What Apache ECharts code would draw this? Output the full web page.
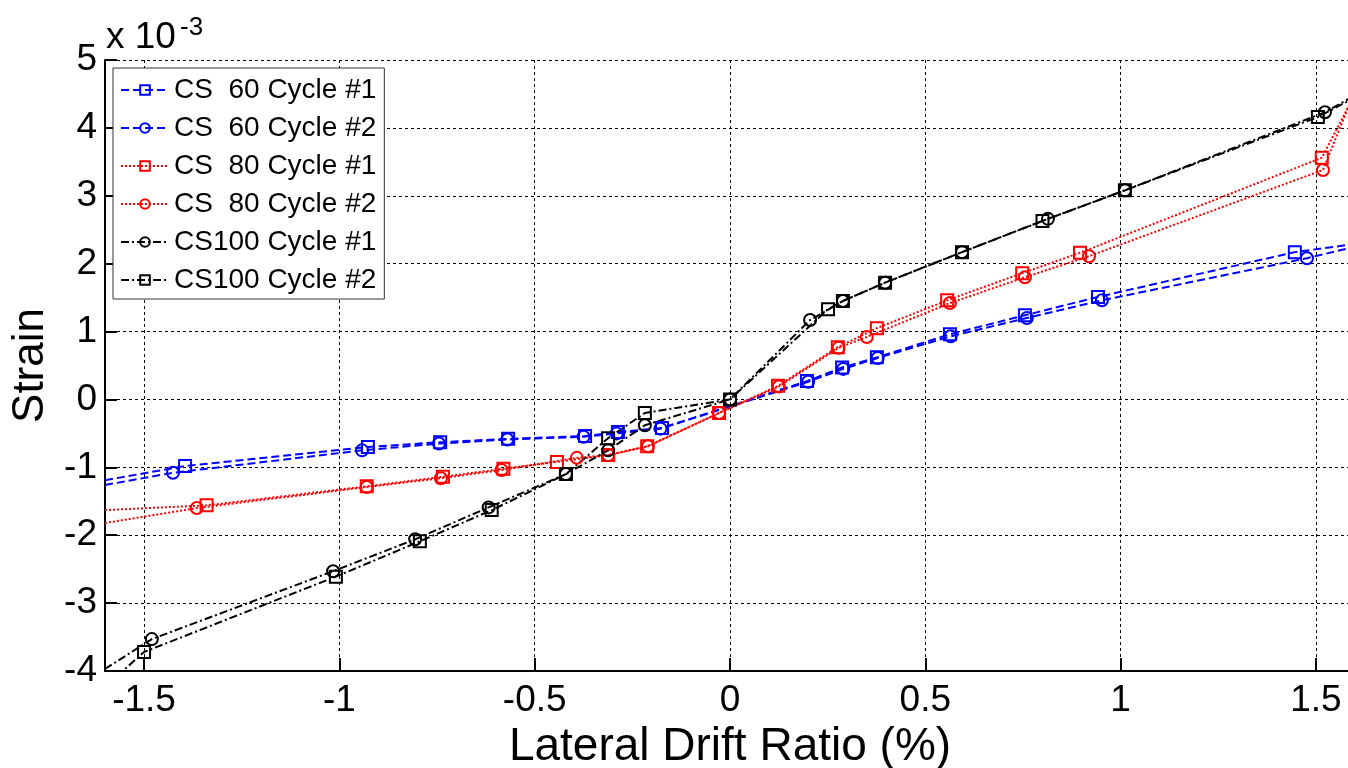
<!DOCTYPE html>
<html>
<head>
<meta charset="utf-8">
<script src="https://cdn.jsdelivr.net/npm/echarts@6/dist/echarts.min.js"></script>
<style>html,body{margin:0;padding:0;background:#fff}#main{width:1348px;height:768px}</style>
</head>
<body>
<div id="main"></div>
<script>
// strain values are in units of 1e-3 (see the "x 10^-3" note)
var cs60c1X = [-1.6, -1.395, -0.927, -0.742, -0.568, -0.371, -0.287, -0.174, 0.197, 0.287, 0.376, 0.563, 0.755, 0.942, 1.446, 1.6];
var cs60c1Y = [-1.19, -0.98, -0.70, -0.63, -0.58, -0.54, -0.48, -0.42, 0.27, 0.47, 0.62, 0.96, 1.24, 1.51, 2.17, 2.29];
var cs60c2X = [-1.6, -1.426, -0.942, -0.745, -0.570, -0.375, -0.290, -0.178, 0.200, 0.290, 0.378, 0.565, 0.760, 0.952, 1.477, 1.6];
var cs60c2Y = [-1.26, -1.08, -0.75, -0.65, -0.59, -0.55, -0.50, -0.43, 0.26, 0.45, 0.61, 0.93, 1.20, 1.46, 2.08, 2.25];

var cs80c1X = [-1.6, -1.340, -0.930, -0.735, -0.580, -0.443, -0.312, -0.212, -0.028, 0.123, 0.276, 0.376, 0.556, 0.748, 0.896, 1.515, 1.6];
var cs80c1Y = [-1.63, -1.56, -1.28, -1.14, -1.02, -0.92, -0.82, -0.69, -0.20, 0.20, 0.77, 1.05, 1.46, 1.86, 2.16, 3.56, 4.50];
var cs80c2X = [-1.6, -1.365, -0.930, -0.740, -0.585, -0.392, -0.312, -0.210, -0.028, 0.125, 0.278, 0.350, 0.563, 0.755, 0.919, 1.518, 1.6];
var cs80c2Y = [-1.82, -1.60, -1.29, -1.16, -1.04, -0.86, -0.82, -0.69, -0.20, 0.19, 0.76, 0.92, 1.42, 1.80, 2.11, 3.38, 4.55];

var cs100c1X = [-1.6, -1.480, -1.016, -0.806, -0.618, -0.420, -0.312, -0.218, 0, 0.205, 0.289, 0.397, 0.594, 0.814, 1.011, 1.523, 1.6];
var cs100c1Y = [-3.97, -3.53, -2.53, -2.06, -1.59, -1.10, -0.75, -0.38, 0, 1.17, 1.45, 1.72, 2.17, 2.66, 3.08, 4.23, 4.48];
var cs100c2X = [-1.6, -1.500, -1.009, -0.794, -0.610, -0.420, -0.312, -0.218, 0, 0.251, 0.289, 0.397, 0.594, 0.800, 1.011, 1.505, 1.6];
var cs100c2Y = [-4.23, -3.72, -2.61, -2.09, -1.63, -1.10, -0.57, -0.20, 0, 1.33, 1.45, 1.72, 2.17, 2.63, 3.08, 4.16, 4.45];

var seriesNames = ['CS  60 Cycle #1', 'CS  60 Cycle #2', 'CS  80 Cycle #1', 'CS  80 Cycle #2', 'CS100 Cycle #1', 'CS100 Cycle #2'];

var FONT = '"Liberation Sans", Arial, sans-serif';

function mkSeries(name, xs, ys, color, dash, symbol) {
    var data = [];
    for (var i = 0; i < xs.length; i++) {
        var p = {value: [xs[i], ys[i]]};
        // first / last points are only where the line leaves the plot
        if (i == 0 || i == xs.length - 1) p.symbol = 'none';
        data.push(p);
    }
    return {
        name: name,
        type: 'line',
        data: data,
        symbol: symbol,
        symbolSize: 12,
        showAllSymbol: true,
        clip: true,
        lineStyle: {color: color, width: 2, type: dash},
        itemStyle: {color: 'rgba(255,255,255,0)', borderColor: color, borderWidth: 2}
    };
}

var dashed = [8, 4];
var dotted = [2, 2];
var dashDot = [8, 3, 2, 3];

var dom = document.getElementById('main');
var myChart = echarts.init(dom);
var option = {
    animation: false,
    backgroundColor: '#fff',
    textStyle: {fontFamily: FONT},
    grid: {left: 105, top: 60, right: -7, bottom: 97, containLabel: false, outerBoundsMode: 'none'},
    xAxis: {
        type: 'value',
        min: -1.6,
        max: 1.6,
        name: 'Lateral Drift Ratio (%)',
        nameLocation: 'middle',
        nameGap: 46,
        nameTextStyle: {fontSize: 46, color: '#000', fontFamily: FONT},
        axisLine: {onZero: false, lineStyle: {color: '#000', width: 2}},
        axisTick: {inside: true, length: 13, lineStyle: {color: '#000', width: 2}},
        axisLabel: {fontSize: 37, color: '#000', margin: 11, showMinLabel: false, showMaxLabel: false, fontFamily: FONT},
        splitLine: {show: true, lineStyle: {color: '#000', width: 1, type: [3, 3]}}
    },
    yAxis: {
        type: 'value',
        min: -4,
        max: 5,
        interval: 1,
        name: 'Strain',
        nameLocation: 'middle',
        nameGap: 51,
        nameTextStyle: {fontSize: 44, color: '#000', fontFamily: FONT},
        axisLine: {onZero: false, lineStyle: {color: '#000', width: 2}},
        axisTick: {inside: true, length: 12, lineStyle: {color: '#000', width: 2}},
        axisLabel: {fontSize: 37, color: '#000', margin: 8, fontFamily: FONT},
        splitLine: {show: true, lineStyle: {color: '#000', width: 1, type: [3, 3]}}
    },
    legend: {
        orient: 'vertical',
        left: 113,
        top: 68,
        data: seriesNames,
        itemWidth: 48,
        itemHeight: 12,
        itemGap: 10,
        padding: [8, 8, 5, 7],
        backgroundColor: '#fff',
        borderColor: '#333',
        borderWidth: 1,
        borderRadius: 0,
        textStyle: {fontSize: 28, color: '#000', fontFamily: FONT}
    },
    graphic: [
        {type: 'text', left: 106, top: 19, style: {text: 'x 10', fontSize: 37, fill: '#000', fontFamily: FONT}},
        {type: 'text', left: 180, top: 15, style: {text: '-3', fontSize: 26, fill: '#000', fontFamily: FONT}}
    ],
    series: [
        mkSeries(seriesNames[0], cs60c1X, cs60c1Y, '#0000ff', dashed, 'rect'),
        mkSeries(seriesNames[1], cs60c2X, cs60c2Y, '#0000ff', dashed, 'circle'),
        mkSeries(seriesNames[2], cs80c1X, cs80c1Y, '#ff0000', dotted, 'rect'),
        mkSeries(seriesNames[3], cs80c2X, cs80c2Y, '#ff0000', dotted, 'circle'),
        mkSeries(seriesNames[4], cs100c1X, cs100c1Y, '#000000', dashDot, 'circle'),
        mkSeries(seriesNames[5], cs100c2X, cs100c2Y, '#000000', dashDot, 'rect')
    ]
};
if (option && typeof option === "object") {
    myChart.setOption(option, true);
}
</script>
</body>
</html>
